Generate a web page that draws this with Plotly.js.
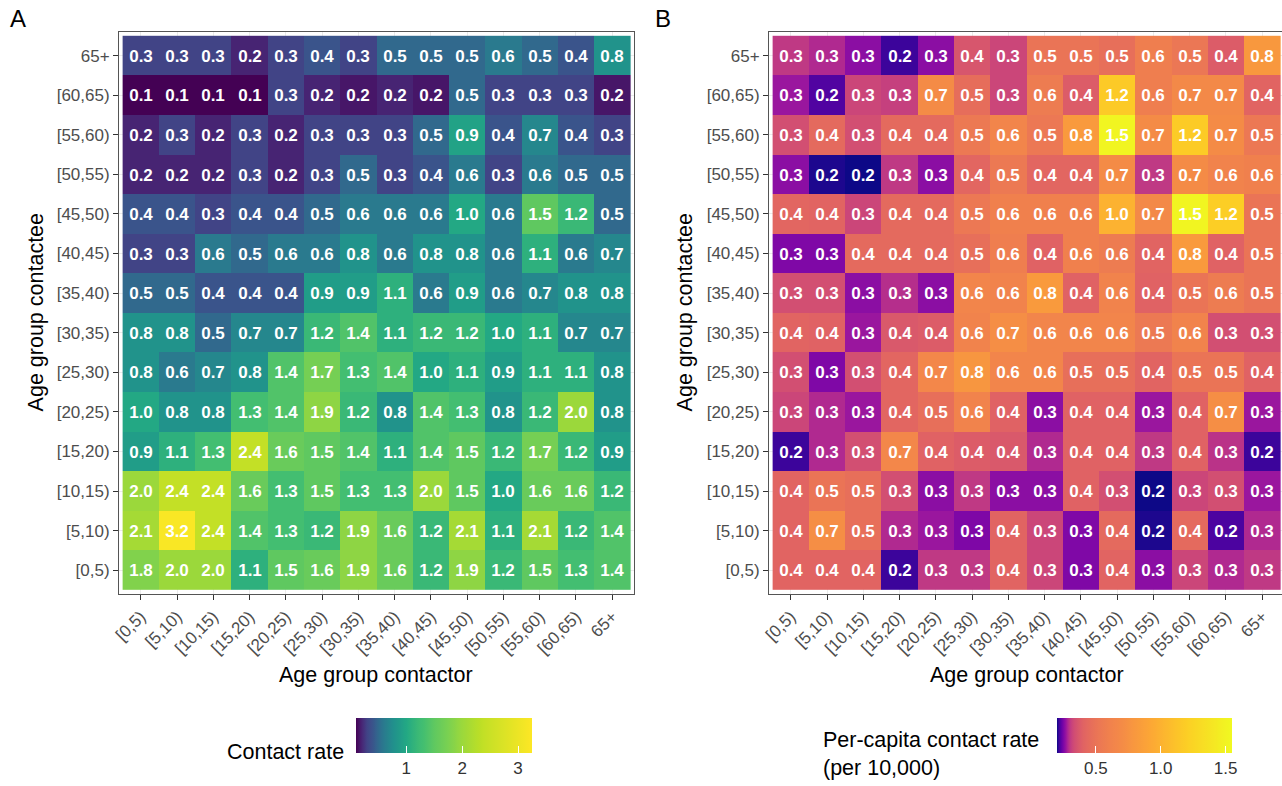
<!DOCTYPE html>
<html>
<head>
<meta charset="utf-8">
<script src="https://cdn.plot.ly/plotly-3.0.1.min.js"></script>
<style>
  html, body { margin: 0; padding: 0; background: #ffffff; overflow: hidden; }
  #chart { width: 1290px; height: 786px; }
</style>
</head>
<body>
<div id="chart"></div>
<script>
// ---------------- DATA ----------------
// Contactor age groups (x axis, left to right)
const contactorGroups = ['[0,5)','[5,10)','[10,15)','[15,20)','[20,25)','[25,30)','[30,35)','[35,40)','[40,45)','[45,50)','[50,55)','[55,60)','[60,65)','65+'];
// Contactee age groups (y axis, top to bottom as drawn)
const contacteeGroups = ['65+','[60,65)','[55,60)','[50,55)','[45,50)','[40,45)','[35,40)','[30,35)','[25,30)','[20,25)','[15,20)','[10,15)','[5,10)','[0,5)'];

// Panel A: contact rate (rows follow contacteeGroups, columns follow contactorGroups)
const contactRate = [
  [0.3,0.3,0.3,0.2,0.3,0.4,0.3,0.5,0.5,0.5,0.6,0.5,0.4,0.8],
  [0.1,0.1,0.1,0.1,0.3,0.2,0.16,0.2,0.16,0.5,0.3,0.3,0.3,0.16],
  [0.2,0.3,0.2,0.3,0.2,0.3,0.3,0.3,0.5,0.94,0.4,0.7,0.4,0.3],
  [0.2,0.2,0.2,0.3,0.2,0.3,0.5,0.3,0.4,0.6,0.3,0.6,0.5,0.5],
  [0.4,0.4,0.3,0.4,0.4,0.5,0.6,0.6,0.6,1.0,0.6,1.5,1.2,0.5],
  [0.3,0.3,0.6,0.5,0.6,0.6,0.8,0.6,0.8,0.8,0.6,1.1,0.6,0.7],
  [0.5,0.5,0.4,0.4,0.4,0.9,0.9,1.1,0.6,0.9,0.6,0.7,0.8,0.8],
  [0.8,0.8,0.5,0.7,0.7,1.2,1.4,1.1,1.2,1.2,1.0,1.1,0.7,0.7],
  [0.8,0.6,0.7,0.8,1.4,1.7,1.3,1.4,1.0,1.1,0.9,1.1,1.1,0.8],
  [1.0,0.8,0.8,1.3,1.4,1.9,1.2,0.8,1.4,1.3,0.8,1.2,2.0,0.8],
  [0.9,1.1,1.3,2.4,1.6,1.5,1.4,1.1,1.4,1.5,1.2,1.7,1.2,0.9],
  [2.0,2.4,2.4,1.6,1.3,1.5,1.3,1.3,2.0,1.5,1.0,1.6,1.6,1.2],
  [2.1,3.2,2.4,1.4,1.3,1.2,1.9,1.6,1.2,2.1,1.1,2.1,1.2,1.4],
  [1.8,2.0,2.0,1.1,1.5,1.6,1.9,1.6,1.2,1.9,1.2,1.5,1.3,1.4]
];

// Panel B: per-capita contact rate (per 10,000), shown to 1 decimal
const perCapitaRate = [
  [0.30,0.285,0.26,0.215,0.26,0.36,0.32,0.50,0.50,0.47,0.58,0.52,0.38,0.80],
  [0.27,0.225,0.32,0.31,0.70,0.46,0.32,0.56,0.38,1.17,0.58,0.68,0.68,0.41],
  [0.34,0.44,0.34,0.44,0.44,0.54,0.64,0.53,0.82,1.52,0.70,1.18,0.70,0.53],
  [0.26,0.205,0.20,0.30,0.26,0.42,0.54,0.42,0.42,0.70,0.30,0.70,0.62,0.60],
  [0.42,0.41,0.32,0.44,0.44,0.53,0.60,0.60,0.60,1.00,0.68,1.52,1.20,0.50],
  [0.252,0.252,0.44,0.44,0.44,0.47,0.58,0.40,0.60,0.56,0.41,0.82,0.40,0.50],
  [0.34,0.34,0.26,0.29,0.26,0.64,0.62,0.82,0.40,0.62,0.40,0.50,0.56,0.50],
  [0.41,0.40,0.27,0.37,0.38,0.62,0.72,0.64,0.64,0.64,0.54,0.62,0.34,0.34],
  [0.34,0.252,0.34,0.42,0.66,0.78,0.64,0.64,0.47,0.47,0.41,0.50,0.50,0.40],
  [0.32,0.285,0.27,0.42,0.47,0.62,0.40,0.26,0.40,0.40,0.27,0.40,0.72,0.27],
  [0.215,0.285,0.34,0.66,0.40,0.38,0.37,0.285,0.40,0.40,0.30,0.40,0.295,0.215],
  [0.41,0.50,0.47,0.34,0.26,0.30,0.26,0.26,0.40,0.34,0.20,0.32,0.34,0.27],
  [0.41,0.72,0.47,0.285,0.27,0.251,0.41,0.32,0.252,0.44,0.205,0.44,0.222,0.285],
  [0.41,0.41,0.41,0.215,0.30,0.30,0.41,0.32,0.252,0.41,0.26,0.32,0.285,0.30]
];

const ticksA = [1, 2, 3];
const ticksB = [0.5, 1.0, 1.5];

// ---------------- COLOUR SCALES ----------------
const viridis = ['#440154','#482475','#414487','#355f8d','#2a788e','#21918c','#22a884','#44bf70','#7ad151','#bddf26','#fde725'];
const plasma  = ['#0d0887','#41049d','#6a00a8','#8f0da4','#b12a90','#cc4778','#e16462','#f2844b','#fca636','#fcce25','#f0f921'];
// value -> position in palette (the reference maps colours non-linearly)
const mapA = [[0.1,0],[0.2,0.1],[0.3,0.2],[0.4,0.26],[0.5,0.34],[0.6,0.41],[0.8,0.51],[1.0,0.6],[1.2,0.67],[1.5,0.75],[2.0,0.85],[2.4,0.91],[3.25,1.0]];
const mapB = [[0.2,0],[0.22,0.12],[0.25,0.25],[0.27,0.33],[0.29,0.42],[0.31,0.48],[0.34,0.53],[0.40,0.595],[0.5,0.65],[0.6,0.69],[0.7,0.72],[0.8,0.76],[1.0,0.83],[1.2,0.9],[1.55,1.0]];

function hexRgb(h){ return [parseInt(h.slice(1,3),16),parseInt(h.slice(3,5),16),parseInt(h.slice(5,7),16)]; }
function paletteAt(pal, p){
  p = Math.max(0, Math.min(1, p));
  const f = p * (pal.length - 1);
  const i = Math.min(Math.floor(f), pal.length - 2);
  const t = f - i;
  const a = hexRgb(pal[i]), b = hexRgb(pal[i+1]);
  const c = a.map((v,k) => Math.round(v + (b[k]-v)*t));
  return 'rgb(' + c.join(',') + ')';
}
function interp(map, v){
  if (v <= map[0][0]) return map[0][1];
  for (let i = 1; i < map.length; i++){
    if (v <= map[i][0]){
      const t = (v - map[i-1][0]) / (map[i][0] - map[i-1][0]);
      return map[i-1][1] + t * (map[i][1] - map[i-1][1]);
    }
  }
  return map[map.length-1][1];
}
function buildScale(map, pal, zmin, zmax){
  const n = 80, s = [];
  for (let i = 0; i <= n; i++){
    const t = i / n;
    s.push([t, paletteAt(pal, interp(map, zmin + t*(zmax - zmin)))]);
  }
  return s;
}

// ---------------- LAYOUT GEOMETRY ----------------
const W = 1290, H = 786;
const FONT = 'Liberation Sans, Arial, Helvetica, sans-serif';
const px = v => v / W;
const py = v => (H - v) / H;

const zminA = 0.1, zmaxA = 3.25, zminB = 0.2, zmaxB = 1.55;

function heat(z, xa, ya, scale, zmin, zmax, cb){
  return {
    type: 'heatmap', x: contactorGroups, y: contacteeGroups, z: z,
    xaxis: xa, yaxis: ya,
    colorscale: scale, zmin: zmin, zmax: zmax,
    texttemplate: '<b>%{z:.1f}</b>',
    textfont: { color: '#ffffff', size: 17, family: FONT },
    hoverinfo: 'x+y+z',
    colorbar: cb
  };
}

function cbar(left, len, tvals, fmt){
  return {
    orientation: 'h', x: px(left), xanchor: 'left', y: py(722), yanchor: 'top',
    len: len, lenmode: 'pixels', thickness: 35, thicknessmode: 'pixels',
    xpad: 0, ypad: 0, outlinewidth: 0,
    tickvals: tvals, tickformat: fmt, ticks: 'inside', ticklen: 7, tickcolor: '#ffffff', tickwidth: 1,
    tickfont: { size: 17, color: '#333333', family: FONT },
    title: { text: '' }
  };
}

const traceA = heat(contactRate, 'x', 'y', buildScale(mapA, viridis, zminA, zmaxA), zminA, zmaxA, cbar(356, 176, ticksA, 'd'));
const traceB = heat(perCapitaRate, 'x2', 'y2', buildScale(mapB, plasma, zminB, zmaxB), zminB, zmaxB, cbar(1057, 175, ticksB, '.1f'));

function xax(domain, anchor){
  return {
    domain: domain, anchor: anchor, type: 'category',
    categoryorder: 'array', categoryarray: contactorGroups,
    range: [-0.6, 13.6], tickangle: -45,
    ticks: 'outside', ticklen: 5, tickcolor: '#333333', tickwidth: 1,
    tickfont: { size: 17, color: '#4d4d4d', family: FONT },
    showline: true, mirror: true, linecolor: '#555555', linewidth: 1,
    showgrid: true, gridcolor: '#ebebeb', zeroline: false, fixedrange: true
  };
}
function yax(domain, anchor){
  return {
    domain: domain, anchor: anchor, type: 'category',
    categoryorder: 'array', categoryarray: contacteeGroups,
    range: [13.6, -0.6],
    ticks: 'outside', ticklen: 5, tickcolor: '#333333', tickwidth: 1,
    tickfont: { size: 17, color: '#4d4d4d', family: FONT },
    showline: true, mirror: true, linecolor: '#555555', linewidth: 1,
    showgrid: true, gridcolor: '#ebebeb', zeroline: false, fixedrange: true
  };
}

const yDom = [py(597), py(32)];

function ann(text, x, y, opts){
  return Object.assign({
    text: text, x: px(x), y: py(y), xref: 'paper', yref: 'paper',
    showarrow: false, font: { size: 21.5, color: '#000000', family: FONT },
    xanchor: 'center', yanchor: 'middle'
  }, opts || {});
}

const layout = {
  width: W, height: H,
  margin: { l: 0, r: 0, t: 0, b: 0 },
  paper_bgcolor: '#ffffff', plot_bgcolor: '#ffffff',
  showlegend: false,
  xaxis: xax([px(119), px(634)], 'y'),
  yaxis: yax(yDom, 'x'),
  xaxis2: xax([px(769), px(1284)], 'y2'),
  yaxis2: yax(yDom, 'x2'),
  annotations: [
    ann('A', 18, 19, { font: { size: 24, color: '#000000', family: FONT } }),
    ann('B', 663, 19, { font: { size: 24, color: '#000000', family: FONT } }),
    ann('Age group contactor', 376, 678),
    ann('Age group contactor', 1027, 678),
    ann('Age group contactee', 36, 314, { textangle: -90 }),
    ann('Age group contactee', 685, 314, { textangle: -90 }),
    ann('Contact rate', 346, 756, { xanchor: 'right' }),
    ann('Per-capita contact rate<br>(per 10,000)', 821, 758, { xanchor: 'left', align: 'left' })
  ]
};

Plotly.newPlot('chart', [traceA, traceB], layout, { displayModeBar: false, staticPlot: true });
</script>
</body>
</html>
